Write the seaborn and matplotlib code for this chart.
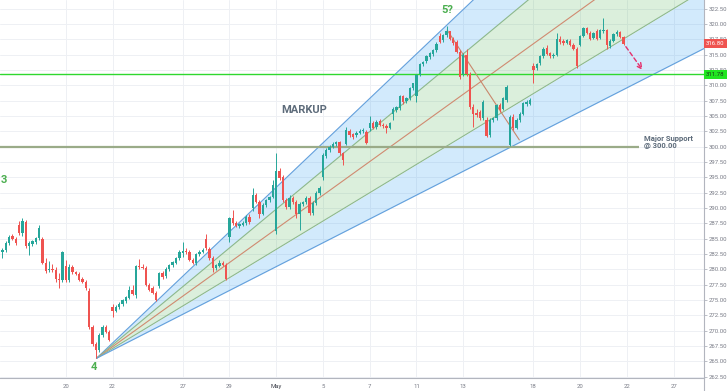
import numpy as np
import pandas as pd
import matplotlib
matplotlib.use("Agg")
import matplotlib.pyplot as plt
import matplotlib.transforms as mtransforms
import seaborn as sns

# hourly bars, index 0 = first bar of Apr 20 (7 bars per session)
first_bar = -19
opens = [
    282.8, 283.1, 284.3, 285.4, 284.9,                      # Apr 15 (part)
    287.2, 285.9, 287.7, 283.8, 284.2, 284.5, 285.1,        # Apr 16
    285.0, 281.0, 279.9, 280.1, 279.9, 278.4, 278.2,        # Apr 17
    280.5, 278.2, 280.4, 279.5, 279.3, 278.4, 278.0,        # Apr 20
    276.4, 270.6, 267.8, 266.9, 269.3, 270.6, 269.8,        # Apr 21
    273.8, 273.2, 273.8, 274.3, 274.8, 275.4, 276.7,        # Apr 22
    275.8, 280.5, 280.4, 280.2, 277.4, 276.9, 276.1,        # Apr 23
    277.2, 279.4, 278.9, 280.0, 280.7, 281.1, 281.8,        # Apr 24
    282.6, 283.0, 282.9, 281.6, 281.0, 282.5, 282.8,        # Apr 27
    285.0, 283.3, 281.8, 280.2, 280.6, 281.1, 280.7,        # Apr 28
    285.3, 288.3, 287.5, 287.1, 287.3, 287.5, 288.6,        # Apr 29
    290.0, 292.1, 291.0, 289.1, 290.5, 291.3, 291.8,        # Apr 30
    286.2, 296.0, 295.0, 291.3, 290.2, 291.6, 291.0,        # May 1
    289.0, 290.7, 290.9, 291.6, 289.2, 290.8, 292.4,        # May 4
    295.1, 298.5, 299.4, 300.0, 300.4, 300.8, 298.9,        # May 5
    300.5, 302.6, 302.0, 301.9, 302.3, 302.5, 302.4,        # May 6
    303.1, 303.9, 303.2, 304.2, 303.6, 303.4, 303.1,        # May 7
    305.4, 306.0, 306.3, 308.2, 307.4, 307.9, 309.5,        # May 8
    308.2, 311.9, 313.4, 313.9, 314.6, 315.1, 315.8,        # May 11
    318.0, 317.4, 318.2, 318.8, 317.6, 317.0, 315.5,        # May 12
    311.9, 315.0, 311.9, 306.5, 305.5, 305.6, 304.6,        # May 13
    304.3, 301.9, 304.4, 304.6, 306.8, 306.2, 307.6,        # May 14
    300.3, 304.9, 303.0, 304.3, 305.4, 306.9, 307.0,        # May 15
    313.2, 312.8, 313.6, 314.7, 316.1, 315.2, 314.7,        # May 18
    315.0, 317.6, 317.3, 316.9, 317.3, 316.6, 316.0,        # May 19
    316.6, 318.0, 319.3, 318.5, 317.7, 318.9, 317.7,        # May 20
    318.8, 319.0, 316.4, 317.2, 318.3, 318.7, 317.9,        # May 21
]
highs = [
    283.5, 284.6, 285.6, 285.8, 285.2,
    287.9, 288.3, 288.1, 284.6, 284.8, 285.3, 287.3,
    285.3, 281.9, 281.3, 280.8, 280.3, 279.4, 283.0,
    281.6, 280.8, 280.7, 279.8, 279.6, 278.7, 278.3,
    276.9, 271.0, 268.2, 269.6, 270.9, 271.0, 270.1,
    274.3, 274.2, 274.6, 275.2, 275.7, 277.3, 277.4,
    280.7, 281.7, 280.9, 280.5, 277.8, 277.2, 276.4,
    279.6, 279.8, 280.3, 280.9, 281.4, 282.0, 283.1,
    284.4, 283.4, 283.1, 281.9, 282.7, 283.1, 283.5,
    285.8, 283.6, 282.1, 280.9, 281.6, 281.4, 281.0,
    288.5, 289.6, 287.9, 287.6, 287.8, 288.8, 289.0,
    293.2, 292.5, 291.3, 290.8, 291.5, 292.0, 294.5,
    298.9, 296.5, 295.3, 291.7, 292.1, 292.0, 291.3,
    291.0, 291.2, 291.9, 291.9, 291.1, 292.7, 293.6,
    298.9, 299.8, 300.3, 300.8, 301.0, 301.0, 299.2,
    303.2, 302.9, 302.3, 302.6, 302.9, 303.0, 302.7,
    305.0, 304.2, 304.3, 304.5, 303.9, 303.7, 304.0,
    306.4, 306.7, 308.5, 308.5, 308.1, 309.7, 310.4,
    311.9, 313.6, 314.0, 314.9, 315.4, 316.0, 317.1,
    318.6, 318.4, 319.6, 318.9, 317.9, 317.4, 315.8,
    315.2, 315.9, 312.2, 306.9, 306.1, 306.0, 307.6,
    304.8, 304.6, 304.9, 307.0, 307.1, 308.1, 310.0,
    305.1, 305.3, 304.6, 305.6, 307.3, 307.6, 307.9,
    313.6, 313.6, 314.9, 316.3, 316.5, 315.5, 315.3,
    318.5, 318.0, 317.6, 317.6, 317.5, 316.9, 316.3,
    318.2, 319.5, 319.5, 318.8, 318.7, 319.2, 319.2,
    320.9, 319.2, 317.5, 318.5, 319.0, 318.9, 318.1,
]
lows = [
    281.8, 282.8, 284.0, 284.7, 284.0,
    285.6, 285.5, 283.4, 282.4, 283.8, 284.2, 284.8,
    280.8, 279.4, 279.6, 279.5, 278.0, 276.9, 278.0,
    278.0, 277.9, 279.3, 279.0, 278.1, 277.7, 276.7,
    270.3, 267.5, 265.5, 266.6, 269.0, 269.6, 268.3,
    272.3, 273.0, 273.5, 274.0, 274.5, 275.2, 275.8,
    275.3, 280.1, 280.0, 277.2, 276.4, 275.9, 274.8,
    276.9, 278.5, 278.6, 279.8, 280.4, 280.9, 281.6,
    282.0, 282.5, 281.4, 280.8, 280.7, 282.2, 282.6,
    283.2, 281.6, 279.5, 279.9, 280.4, 280.5, 278.2,
    284.5, 287.3, 286.9, 286.8, 287.0, 287.3, 287.4,
    289.5, 290.8, 288.4, 288.8, 290.2, 291.0, 291.6,
    285.8, 294.6, 291.0, 289.8, 289.9, 290.7, 288.3,
    286.4, 290.3, 290.6, 288.8, 288.9, 290.5, 292.1,
    294.5, 298.2, 299.1, 299.7, 300.1, 298.7, 297.0,
    300.2, 301.6, 301.3, 301.6, 302.0, 302.2, 300.4,
    302.5, 302.8, 302.9, 303.3, 303.1, 302.2, 302.9,
    304.3, 305.7, 306.0, 307.0, 307.1, 307.6, 309.2,
    307.3, 311.6, 313.1, 313.6, 314.3, 314.8, 315.5,
    316.9, 317.1, 317.9, 317.4, 316.6, 315.2, 311.0,
    311.5, 311.6, 306.2, 303.2, 304.8, 304.3, 304.3,
    301.5, 301.6, 304.0, 304.3, 305.7, 305.9, 307.3,
    300.1, 302.7, 302.8, 304.0, 305.1, 306.6, 306.8,
    310.3, 312.5, 313.3, 314.4, 314.9, 314.4, 314.4,
    314.8, 316.7, 316.6, 316.7, 316.4, 315.8, 312.9,
    316.4, 317.8, 318.3, 317.4, 317.5, 317.4, 317.5,
    318.5, 316.0, 316.1, 317.0, 318.0, 317.7, 316.5,
]
closes = [
    283.1, 284.3, 285.3, 284.9, 284.3,
    285.9, 287.8, 283.8, 284.3, 284.6, 285.1, 286.7,
    281.0, 279.8, 280.1, 279.9, 278.4, 278.2, 282.8,
    278.2, 280.4, 279.5, 279.2, 278.3, 277.9, 276.9,
    270.6, 267.8, 266.9, 269.3, 270.6, 269.8, 268.5,
    273.2, 273.9, 274.4, 275.0, 275.5, 276.7, 276.0,
    280.5, 280.3, 280.2, 277.4, 276.7, 276.1, 275.0,
    279.4, 278.8, 280.1, 280.7, 281.2, 281.8, 282.9,
    283.0, 282.8, 281.6, 281.0, 282.5, 282.9, 283.2,
    283.4, 281.8, 280.2, 280.7, 281.1, 280.7, 278.4,
    288.3, 287.5, 287.1, 287.4, 287.6, 288.6, 287.7,
    292.1, 291.0, 289.1, 290.5, 291.3, 291.8, 293.8,
    296.0, 294.9, 291.3, 290.2, 291.7, 291.0, 289.1,
    290.7, 290.9, 291.6, 289.2, 290.8, 292.4, 293.2,
    298.6, 299.5, 300.0, 300.5, 300.8, 298.9, 297.8,
    302.7, 301.9, 301.6, 302.3, 302.6, 302.7, 300.6,
    303.8, 303.0, 304.1, 303.5, 303.4, 303.1, 303.8,
    306.2, 306.4, 308.2, 307.3, 307.9, 309.5, 310.3,
    311.7, 313.4, 313.8, 314.7, 315.2, 315.8, 316.8,
    317.1, 318.2, 318.9, 317.6, 316.9, 315.5, 311.4,
    314.9, 311.9, 306.5, 305.4, 305.2, 304.6, 307.3,
    301.8, 304.3, 304.6, 306.8, 306.0, 307.9, 309.8,
    304.9, 303.0, 304.3, 305.4, 307.1, 307.3, 307.6,
    312.5, 313.4, 314.7, 316.0, 315.1, 314.7, 315.0,
    317.6, 317.0, 316.9, 317.4, 316.6, 316.0, 313.1,
    318.0, 319.3, 318.5, 317.6, 318.5, 317.6, 319.0,
    319.1, 316.6, 317.2, 318.3, 318.7, 317.9, 316.8,
]

# day labels on the time axis (bar index of each session start)
day_ticks = [0, 14, 35, 49, 63, 77, 91, 105, 119, 140, 154, 168, 182]
day_labels = ["20", "22", "27", "29", "May", "5", "7", "11", "13", "18", "20", "22", "27"]

# fan drawn from wave-4 low, level of each ray at the right edge
fan_start = (9.2, 265.5)
fan_end_x = 191.1
fan_ends = [359.7, 347.7, 336.8, 325.5, 316.0]

last_price = 316.80
green_level = 311.78
support_level = 300.00
peak_line_x = [114.2, 135.8]
peak_line_y = [319.0, 301.1]
arrow_from = (167.7, 316.3)
arrow_to = (172.7, 312.5)

sns.set_style("white")
plt.rcParams["font.family"] = ["Roboto", "DejaVu Sans"]

df = pd.DataFrame({"o": opens, "h": highs, "l": lows, "c": closes})
df["x"] = np.arange(len(df)) + first_bar
up = df["c"] >= df["o"]
colors = np.where(up, "#26a69a", "#ef5350")

fig = plt.figure(figsize=(7.28, 3.91), dpi=100)
ax = fig.add_axes([0, 13 / 391, 704 / 728, 378 / 391])
ax.set_xlim(-19.7, 191.1)
ax.set_ylim(262.28, 323.91)

# grid
yt = np.arange(262.5, 323.0, 2.5)
for y in yt:
    ax.axhline(y, color="#eef0f4", lw=0.7, zorder=0)
for x in day_ticks:
    ax.axvline(x, color="#eef0f4", lw=0.7, zorder=0)

# fan bands
x0, y0 = fan_start
xs = [x0, fan_end_x]
ax.fill_between(xs, [y0, fan_ends[0]], [y0, fan_ends[1]], color="#2196f3", alpha=0.2, lw=0, zorder=1)
ax.fill_between(xs, [y0, fan_ends[1]], [y0, fan_ends[3]], color="#4caf50", alpha=0.2, lw=0, zorder=1)
ax.fill_between(xs, [y0, fan_ends[3]], [y0, fan_ends[4]], color="#2196f3", alpha=0.2, lw=0, zorder=1)
ray_colors = ["#64a0dc", "#8cb88c", "#d08a70", "#8cb88c", "#64a0dc"]
for end, col in zip(fan_ends, ray_colors):
    ax.plot(xs, [y0, end], color=col, lw=0.8, zorder=2)

# levels
ax.axhline(green_level, color="#2fd82f", lw=1.0, zorder=3)
ax.hlines(support_level, -19.7, 171.7, color="#9aab88", lw=1.6, zorder=3)
ax.plot(peak_line_x, peak_line_y, color="#c9876c", lw=0.8, zorder=3)

# candles
ax.vlines(df["x"], df["l"], df["h"], colors=colors, lw=0.7, zorder=4)
body_lo = np.minimum(df["o"], df["c"])
body_h = np.maximum((df["c"] - df["o"]).abs(), 0.1)
ax.bar(df["x"], body_h, bottom=body_lo, width=0.7, color=colors, lw=0, zorder=5)

ax.annotate("", xy=arrow_to, xytext=arrow_from,
            arrowprops=dict(arrowstyle="->", linestyle=(0, (3, 2)), color="#e5306c", lw=1.0,
                            shrinkA=0, shrinkB=0), zorder=6)

# annotations
green = "#4caf50"
slate = "#5d6b7a"
ax.text(71.3, 306.0, "MARKUP", fontsize=8, fontweight="bold", color=slate, ha="center", va="center")
ax.text(114.3, 322.3, "5?", fontsize=8, fontweight="bold", color=green, ha="center", va="center")
ax.text(8.5, 264.1, "4", fontsize=8, fontweight="bold", color=green, ha="center", va="center")
ax.text(-19.6, 294.6, "3", fontsize=8, fontweight="bold", color=green, ha="left", va="center")
ax.text(173.2, 300.8, "Major Support\n@ 300.00", fontsize=5.5, fontweight="bold", color=slate,
        ha="left", va="center", linespacing=1.0)

# axes
for s in ["top", "left"]:
    ax.spines[s].set_visible(False)
for s in ["right", "bottom"]:
    ax.spines[s].set_color("#b2b5be")
    ax.spines[s].set_linewidth(0.8)
ax.yaxis.tick_right()
ax.set_yticks(yt)
ax.set_yticklabels([f"{v:.2f}" for v in yt])
ax.tick_params(axis="y", labelsize=4.3, labelcolor="#787b86", color="#b2b5be", length=2, width=0.6, pad=1.5)
ax.set_xticks(day_ticks)
ax.set_xticklabels(day_labels)
ax.tick_params(axis="x", labelsize=4.3, labelcolor="#787b86", length=0, pad=4)
for lab in ax.get_xticklabels():
    if lab.get_text() == "May":
        lab.set_color("#40434d")

trans = mtransforms.blended_transform_factory(ax.transAxes, ax.transData)
ax.text(1.003, last_price, f"{last_price:.2f}", transform=trans, fontsize=4.3, color="white",
        ha="left", va="center", zorder=10, clip_on=False,
        bbox=dict(boxstyle="square,pad=0.35", fc="#ef5350", ec="none"))
ax.text(1.003, green_level, f"{green_level:.2f}", transform=trans, fontsize=4.3, color="#1b3d1b",
        ha="left", va="center", zorder=10, clip_on=False,
        bbox=dict(boxstyle="square,pad=0.35", fc="#22e622", ec="none"))

fig.add_artist(plt.Line2D([704 / 728, 704 / 728], [0, 13 / 391], color="#b2b5be", lw=0.8))

fig.savefig("out.png", dpi=100)
